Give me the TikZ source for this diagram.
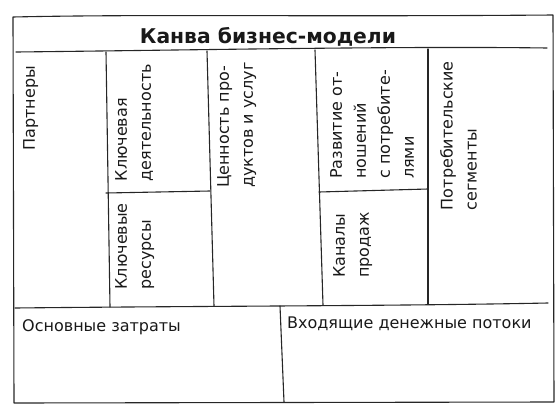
\documentclass[tikz,border=0pt]{standalone}
\usepackage{fontspec}
\setmainfont{DejaVu Sans}
\begin{document}
\begin{tikzpicture}[x=1pt,y=-1pt,
  ln/.style={line width=1.1pt, draw=black!85, line cap=round, line join=round},
  lbl/.style={font=\fontsize{16}{24}\selectfont, inner sep=0pt, align=left, text=black!90},
  vlbl/.style={lbl, rotate=90, anchor=north east},
  ttl/.style={font=\fontsize{20.3}{24}\selectfont\bfseries, inner sep=0pt, text=black!90}]
\useasboundingbox (0,0) rectangle (560,410);
% outer frame corners
\coordinate (tl) at (13,17);
\coordinate (tr) at (553,15);
\coordinate (br) at (554,402);
\coordinate (bl) at (14,403);
% outer frame
\draw[ln] (tl) .. controls (150,14) and (300,17) .. (tr) -- (br) -- (bl) -- cycle;
% title divider
\draw[ln] (16,52) .. controls (200,50) and (400,46) .. (547,48);
% column verticals
\draw[ln] (106,52) -- (110,307);
\draw[ln] (207,51) -- (214,306);
\draw[ln] (315,50) -- (323,305);
\draw[ln] (428,49) -- (428,304);
% splits
\draw[ln] (106,193) -- (210,191);
\draw[ln] (319,192) -- (428,189);
% bottom of upper section
\draw[ln] (15,308) .. controls (200,306) and (400,306) .. (548,303);
% bottom divider
\draw[ln] (280,306) -- (284,402);
% title
\node[ttl, anchor=base] (title) at (268,43) {Канва бизнес-модели};
% rotated labels
\node[vlbl] (kp) at (23,66) {Партнеры};
\node[vlbl] (ka) at (115,64) {Ключевая\\деятельность};
\node[vlbl] (kr) at (115,203) {Ключевые\\ресурсы};
\node[vlbl] (vp) at (217,62) {Ценность про-\\дуктов и услуг};
\node[vlbl] (cr) at (330,70) {Развитие от-\\ношений\\с потребите-\\лями};
\node[vlbl] (ch) at (333,212) {Каналы\\продаж};
\node[vlbl] (cs) at (440,61) {Потребительские\\сегменты};
% bottom labels
\node[lbl, anchor=base west] (cost) at (22,331) {Основные затраты};
\node[lbl, anchor=base west] (rev) at (287,328) {Входящие денежные потоки};
\end{tikzpicture}
\end{document}
